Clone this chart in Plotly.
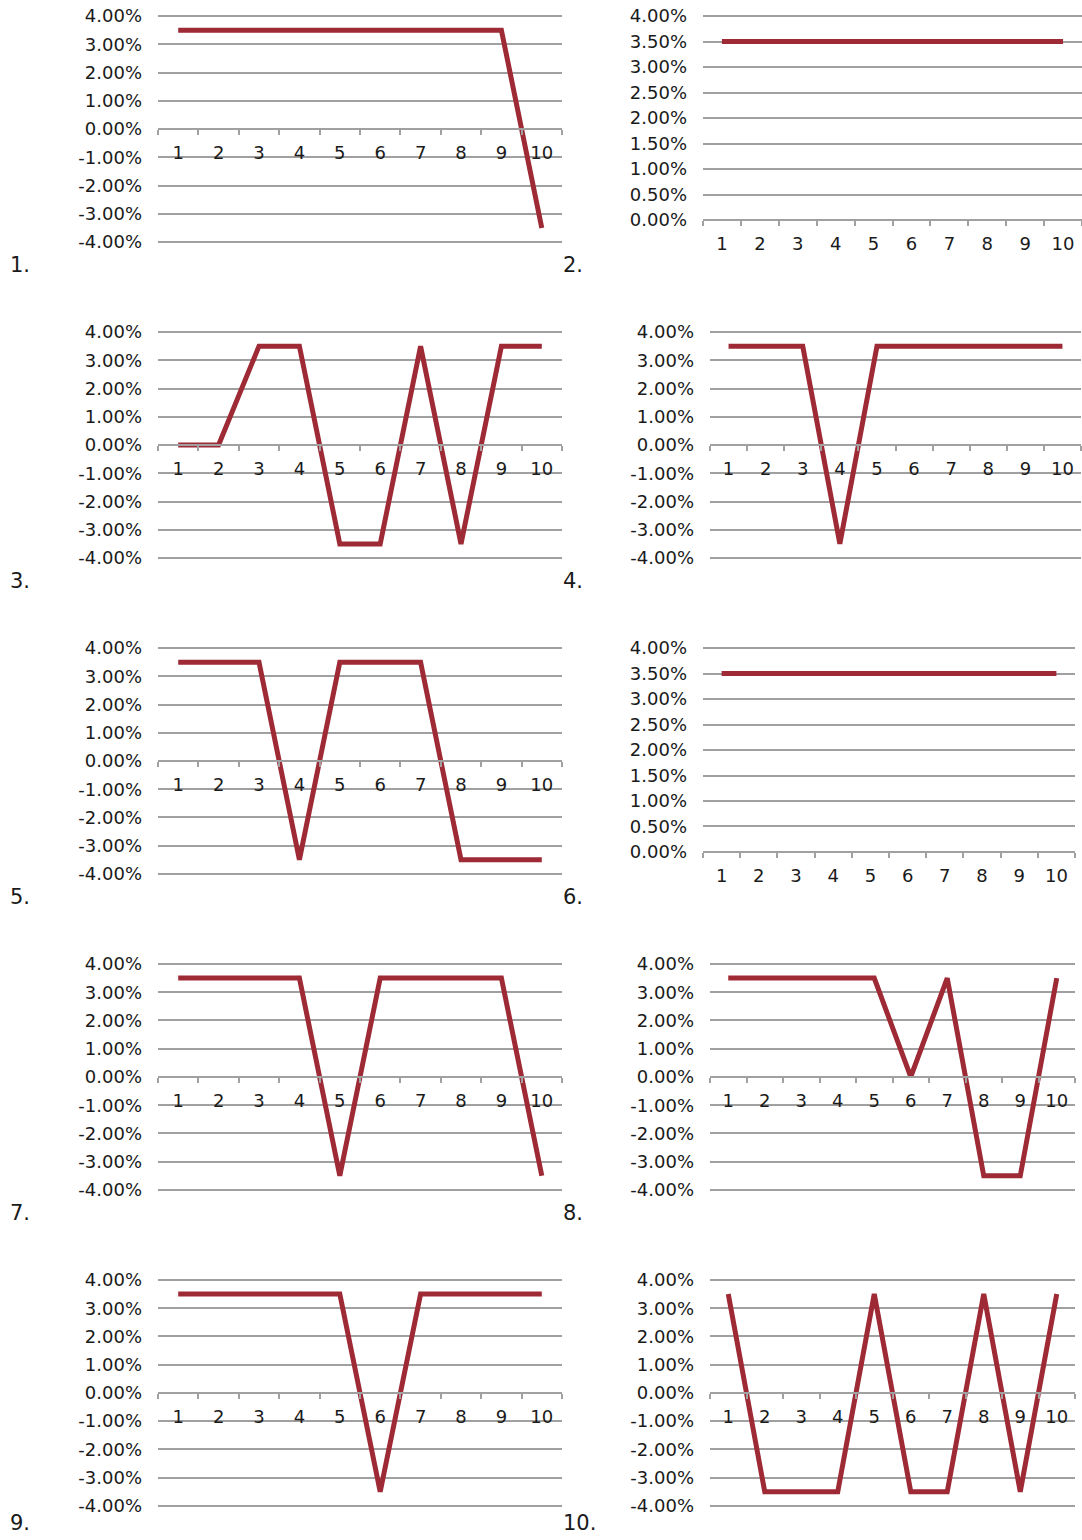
import plotly.graph_objects as go

# ---------------- data ----------------
categories = ["1", "2", "3", "4", "5", "6", "7", "8", "9", "10"]

s1 = [3.5, 3.5, 3.5, 3.5, 3.5, 3.5, 3.5, 3.5, 3.5, -3.5]
s2 = [3.5, 3.5, 3.5, 3.5, 3.5, 3.5, 3.5, 3.5, 3.5, 3.5]
s3 = [0.0, 0.0, 3.5, 3.5, -3.5, -3.5, 3.5, -3.5, 3.5, 3.5]
s4 = [3.5, 3.5, 3.5, -3.5, 3.5, 3.5, 3.5, 3.5, 3.5, 3.5]
s5 = [3.5, 3.5, 3.5, -3.5, 3.5, 3.5, 3.5, -3.5, -3.5, -3.5]
s6 = [3.5, 3.5, 3.5, 3.5, 3.5, 3.5, 3.5, 3.5, 3.5, 3.5]
s7 = [3.5, 3.5, 3.5, 3.5, -3.5, 3.5, 3.5, 3.5, 3.5, -3.5]
s8 = [3.5, 3.5, 3.5, 3.5, 3.5, 0.0, 3.5, -3.5, -3.5, 3.5]
s9 = [3.5, 3.5, 3.5, 3.5, 3.5, -3.5, 3.5, 3.5, 3.5, 3.5]
s10 = [3.5, -3.5, -3.5, -3.5, 3.5, -3.5, -3.5, 3.5, -3.5, 3.5]

panel_labels = ["1.", "2.", "3.", "4.", "5.", "6.", "7.", "8.", "9.", "10."]

sym_tickvals = [-4, -3, -2, -1, 0, 1, 2, 3, 4]
sym_ticktext = ["-4.00%", "-3.00%", "-2.00%", "-1.00%", "0.00%",
                "1.00%", "2.00%", "3.00%", "4.00%"]
pos_tickvals = [0, 0.5, 1, 1.5, 2, 2.5, 3, 3.5, 4]
pos_ticktext = ["0.00%", "0.50%", "1.00%", "1.50%", "2.00%",
                "2.50%", "3.00%", "3.50%", "4.00%"]

series = [s1, s2, s3, s4, s5, s6, s7, s8, s9, s10]
positive_only = [False, True, False, False, False, True, False, False, False, False]

# ---------------- layout geometry (pixels) ----------------
W, H = 1082, 1540
LINE_COLOR = "#9E2A35"
GRID_COLOR = "#A0A0A0"
TEXT_COLOR = "#1A1A1A"
FONT = "DejaVu Sans"
TICK_SIZE = 18

x_extents = [
    (158, 562), (703, 1082),
    (158, 562), (710, 1081),
    (158, 562), (703, 1075),
    (158, 562), (710, 1075),
    (158, 562), (710, 1075),
]

# observed page mapping: shown_y = (8 + fig_y) * 1540 / 1556
Y_OFF, Y_SCALE = 8.0, 1540.0 / 1556.0


def fy(p):
    """target (shown) pixel y -> figure pixel y"""
    return p / Y_SCALE - Y_OFF


def px_x(p):
    return min(max(p / W, 0.0), 1.0)


def px_y(p):
    return min(max(1 - p / H, 0.0), 1.0)


fig = go.Figure()
PAD = 0.08

for i, (vals, pos) in enumerate(zip(series, positive_only)):
    n = i + 1
    row = i // 2
    top = fy(16 + 316 * row)
    if pos:
        bottom = fy(220 + 316 * row)
        lo, hi = 0.0, 4.0
        tv, tt = pos_tickvals, pos_ticktext
        zero_px = bottom
    else:
        bottom = fy(242 + 316 * row)
        lo, hi = -4.0, 4.0
        tv, tt = sym_tickvals, sym_ticktext
        zero_px = (top + bottom) / 2
    ppu = (bottom - top) / (hi - lo)
    pad_px = PAD * ppu
    y_dom = [px_y(bottom + pad_px), px_y(top - pad_px)]
    x0, x1 = x_extents[i]
    x_dom = [px_x(x0), px_x(x1)]

    xname = "xaxis" if n == 1 else f"xaxis{n}"
    yname = "yaxis" if n == 1 else f"yaxis{n}"
    xref = "x" if n == 1 else f"x{n}"
    yref = "y" if n == 1 else f"y{n}"

    fig.add_trace(go.Scatter(
        x=categories, y=vals, mode="lines", xaxis=xref, yaxis=yref,
        line=dict(color=LINE_COLOR, width=5), showlegend=False,
        hoverinfo="skip",
    ))

    fig.layout[xname] = dict(
        domain=x_dom, type="category", categoryorder="array",
        categoryarray=categories, range=[-0.5, 9.5],
        anchor="free", position=px_y(zero_px),
        showline=True, linecolor=GRID_COLOR, linewidth=1.5,
        ticks="outside", tickson="boundaries", ticklen=5, tickwidth=1.5,
        tickcolor=GRID_COLOR, showgrid=False, zeroline=False,
        tickfont=dict(family=FONT, size=TICK_SIZE, color=TEXT_COLOR),
        ticklabelstandoff=8, fixedrange=True,
    )
    fig.layout[yname] = dict(
        domain=y_dom, anchor=xref, range=[lo - PAD, hi + PAD],
        tickmode="array", tickvals=tv, ticktext=tt,
        showgrid=True, gridcolor=GRID_COLOR, gridwidth=1.5,
        zeroline=False, showline=False, ticks="",
        tickfont=dict(family=FONT, size=TICK_SIZE, color=TEXT_COLOR),
        ticklabelstandoff=15, fixedrange=True,
    )

    lx = 8 if i % 2 == 0 else 561
    ly = min(fy(265 + 316 * row), 1531)
    fig.add_annotation(
        text=panel_labels[i], xref="paper", yref="paper",
        x=px_x(lx), y=px_y(ly), xanchor="left", yanchor="middle",
        showarrow=False, font=dict(family=FONT, size=21, color=TEXT_COLOR),
    )

fig.update_layout(
    width=W, height=H, margin=dict(l=0, r=0, t=0, b=0),
    paper_bgcolor="white", plot_bgcolor="rgba(0,0,0,0)",
    showlegend=False,
)

page_fix = (
    "var gd=document.getElementById('{plot_id}');"
    "gd.style.position='absolute';gd.style.top='0px';gd.style.left='0px';"
    "var st='margin:0;padding:0;overflow:hidden;width:1082px;height:1540px;';"
    "document.documentElement.style.cssText=st;"
    "document.body.style.cssText=st;"
)

fig.write_html(
    "out.html",
    config={"displayModeBar": False},
    post_script=page_fix,
)
